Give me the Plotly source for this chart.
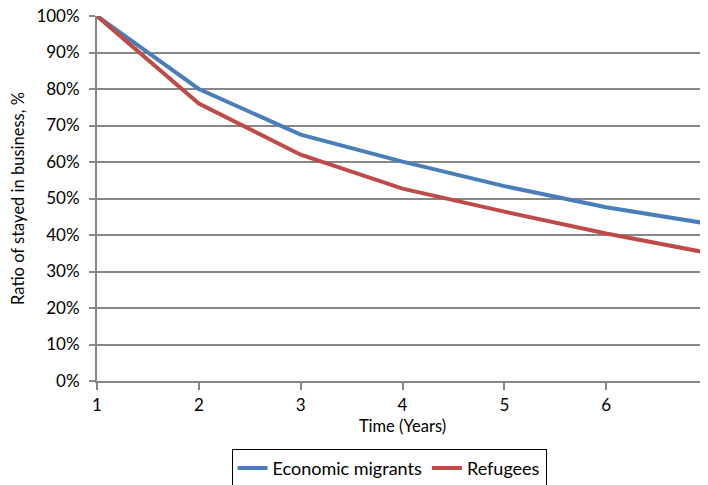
import plotly.graph_objects as go

years = [1, 2, 3, 4, 5, 6, 7]
economic_migrants = [100, 80.0, 67.5, 60.1, 53.4, 47.6, 43.1]
refugees = [100, 76.0, 62.0, 52.7, 46.4, 40.4, 35.1]
y_ticks = list(range(0, 101, 10))
y_tick_labels = [f"{v}%" for v in y_ticks]

font_family = "Lato, 'Open Sans', sans-serif"
grid_col = "#878787"

fig = go.Figure()
fig.add_trace(go.Scatter(x=years, y=economic_migrants, mode="lines", name="Economic migrants",
                         line=dict(color="#4A7EBB", width=4), cliponaxis=False))
fig.add_trace(go.Scatter(x=years, y=refugees, mode="lines", name="Refugees",
                         line=dict(color="#BE4B48", width=4), cliponaxis=False))

# page body has an 8px margin, so the figure is sized to fit the window
fig.update_layout(
    width=700, height=477,
    margin=dict(l=89, r=0, t=8, b=104),
    plot_bgcolor="white", paper_bgcolor="white",
    font=dict(family=font_family, size=17, color="#000000"),
    showlegend=True,
    legend=dict(orientation="h", x=0.478, xanchor="center", xref="paper",
                y=0.076, yanchor="top", yref="container",
                bordercolor="#000000", borderwidth=1, font=dict(size=18),
                tracegroupgap=0),
    xaxis=dict(range=[1, 7], tickvals=years, ticktext=[str(v) for v in years],
               showgrid=False, zeroline=False, showline=True, linecolor=grid_col, linewidth=2,
               ticks="outside", ticklen=7, tickwidth=2, tickcolor=grid_col, automargin=False,
               ticklabelstandoff=1, ticklabeloverflow="allow",
               title=dict(text="Time (Years)", standoff=6, font=dict(size=16.5))),
    yaxis=dict(range=[0, 100], tickvals=y_ticks, ticktext=y_tick_labels,
               showgrid=True, gridcolor=grid_col, gridwidth=2, zeroline=False,
               showline=True, linecolor=grid_col, linewidth=2, automargin=False,
               ticks="outside", ticklen=6, tickwidth=2, tickcolor=grid_col,
               ticklabelstandoff=6, ticklabeloverflow="allow",
               title=dict(text="Ratio of stayed in business, %", standoff=12, font=dict(size=16.5))),
)

fig.write_html("out.html")
